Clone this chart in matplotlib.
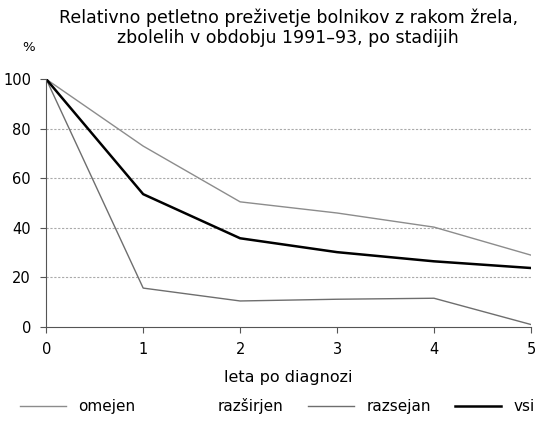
import matplotlib.pyplot as plt

# leta po diagnozi
years = [0, 1, 2, 3, 4, 5]
omejen = [100, 73, 50.5, 46, 40.3, 29]
razsirjen = []  # line not visible in the source chart
razsejan = [100, 15.7, 10.5, 11.2, 11.6, 1]
vsi = [100, 53.6, 35.8, 30.2, 26.5, 23.8]

plt.rcParams['font.family'] = ['DejaVu Sans']
fig = plt.figure(figsize=(5.44, 4.28), dpi=100)
ax = fig.add_axes([0.085, 0.236, 0.891, 0.579])

ax.plot(years, omejen, color='#8c8c8c', lw=1.0, label='omejen')
ax.plot(razsirjen, razsirjen, color='white', lw=1.0, label='razširjen')
ax.plot(years, razsejan, color='#6e6e6e', lw=1.0, label='razsejan')
ax.plot(years, vsi, color='black', lw=1.8, label='vsi')

ax.set_xlim(0, 5)
ax.set_ylim(0, 100)
ax.set_xticks(years)
ax.set_yticks([0, 20, 40, 60, 80, 100])
for y in [20, 40, 60, 80]:
    ax.axhline(y, color='#aaaaaa', lw=0.8, ls=(0, (2, 1.5)), zorder=0)
for s in ['top', 'right']:
    ax.spines[s].set_visible(False)
for s in ['left', 'bottom']:
    ax.spines[s].set_color('#555555')
ax.tick_params(direction='out', length=4, color='#555555', labelsize=10.5, pad=7)

ax.set_xlabel('leta po diagnozi', fontsize=11.5, labelpad=9)
fig.text(0.53, 0.98, 'Relativno petletno preživetje bolnikov z rakom žrela,\nzbolelih v obdobju 1991–93, po stadijih',
         ha='center', va='top', fontsize=12.5, linespacing=1.15)
fig.text(0.04, 0.88, '%', fontsize=9.5)

fig.legend(loc='lower center', bbox_to_anchor=(0.51, 0.0), ncol=4, frameon=False,
           fontsize=11, handlelength=3.0, columnspacing=1.6, handletextpad=0.8)

fig.savefig('out.png', dpi=100)
